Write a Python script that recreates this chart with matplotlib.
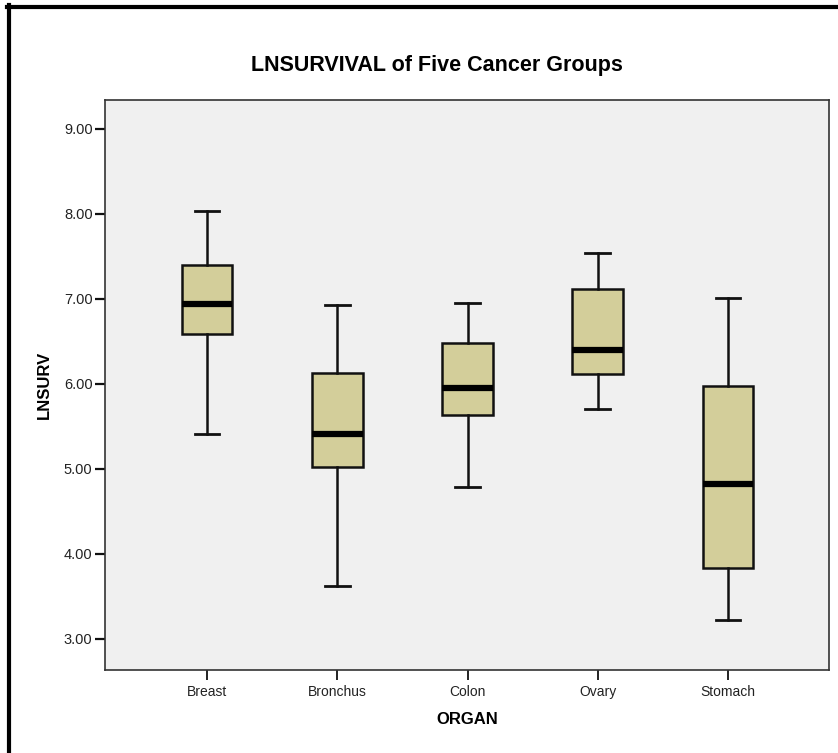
import matplotlib
matplotlib.use('Agg')
import matplotlib.pyplot as plt
from matplotlib.lines import Line2D

plt.rcParams['font.family'] = ['Liberation Sans', 'DejaVu Sans']

# values
organs = ['Breast', 'Bronchus', 'Colon', 'Ovary', 'Stomach']
whislo = [5.41, 3.62, 4.79, 5.71, 3.22]
q1 = [6.59, 5.02, 5.63, 6.12, 3.83]
med = [6.94, 5.41, 5.95, 6.40, 4.82]
q3 = [7.40, 6.13, 6.48, 7.12, 5.98]
whishi = [8.04, 6.93, 6.95, 7.54, 7.01]
yticks = [3, 4, 5, 6, 7, 8, 9]

W, H = 838, 753
fig = plt.figure(figsize=(W / 100, H / 100), dpi=100)
ax = fig.add_axes([105 / W, 1 - 670 / H, (829 - 105) / W, (670 - 100) / H])
ax.set_facecolor('#f0f0f0')

stats = []
for i, name in enumerate(organs):
    stats.append(dict(label=name, whislo=whislo[i], q1=q1[i], med=med[i],
                      q3=q3[i], whishi=whishi[i], fliers=[]))

ax.bxp(stats, positions=range(1, 6), widths=0.39, capwidths=0.19,
       patch_artist=True, showfliers=False,
       boxprops=dict(facecolor='#d3ce9a', edgecolor='#111111', linewidth=1.8),
       whiskerprops=dict(color='#111111', linewidth=1.8),
       capprops=dict(color='#111111', linewidth=2.0),
       medianprops=dict(color='black', linewidth=4.5, solid_capstyle='butt'))

ax.set_xlim(0.217, 5.775)
ax.set_ylim(2.635, 9.341)
ax.set_yticks(yticks)
ax.set_yticklabels(['%.2f' % v for v in yticks])
ax.set_xticks(range(1, 6))
ax.set_xticklabels(organs)

ax.tick_params(axis='y', length=7, width=1.6, labelsize=10.5, pad=2,
               color='#111111', labelcolor='#222222')
ax.tick_params(axis='x', length=7, width=1.3, labelsize=10, pad=4,
               color='#111111', labelcolor='#222222')
for s in ax.spines.values():
    s.set_color('#333333')
    s.set_linewidth(1.2)

ax.set_xlabel('ORGAN', fontsize=12, fontweight='bold', labelpad=9)
ax.set_ylabel('LNSURV', fontsize=12, fontweight='bold', labelpad=9)

fig.text(437 / W, 1 - 66 / H, 'LNSURVIVAL of Five Cancer Groups',
         ha='center', va='center', fontsize=15.5, fontweight='bold')

# black frame on the left and top of the picture
fig.add_artist(Line2D([9 / W, 9 / W], [0, 1 - 5 / H], transform=fig.transFigure,
                      color='black', linewidth=3))
fig.add_artist(Line2D([7 / W, 1], [1 - 7 / H, 1 - 7 / H], transform=fig.transFigure,
                      color='black', linewidth=3))

fig.savefig('out.png', dpi=100)
